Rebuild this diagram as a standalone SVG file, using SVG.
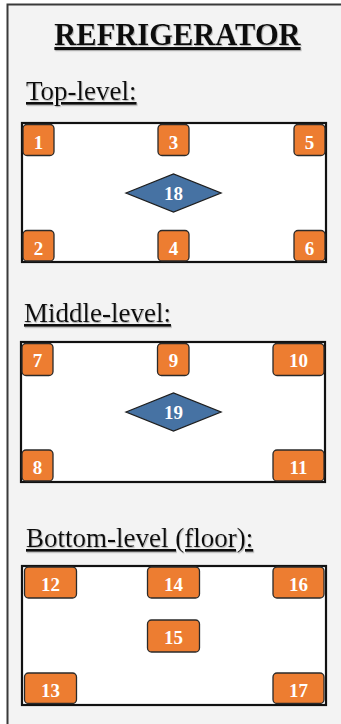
<svg xmlns="http://www.w3.org/2000/svg" width="341" height="724" viewBox="0 0 341 724">
<defs>
<style>
.head{font-family:"Liberation Serif","Times New Roman",serif;fill:#111;text-decoration:underline;filter:url(#sh)}
.box{fill:#ffffff;stroke:#111;stroke-width:2.2}
.n rect{fill:#ed7d31;stroke:#2a2a2a;stroke-width:1.3}
.n polygon{fill:#4672a3;stroke:#1e1e1e;stroke-width:1.3}
.n text{font-family:"Liberation Serif","Times New Roman",serif;font-weight:bold;font-size:19px;fill:#ffffff;text-anchor:middle}
</style>
<filter id="sh" x="-5%" y="-20%" width="110%" height="140%">
<feDropShadow dx="0.8" dy="1.2" stdDeviation="0.5" flood-color="#888" flood-opacity="0.6"/>
</filter>
</defs>
<rect x="0" y="0" width="341" height="724" fill="#ffffff"/>
<rect x="7.5" y="4.5" width="345" height="730" fill="#f3f3f3" stroke="#3a3a3a" stroke-width="2"/>

<text class="head" x="177.5" y="45" font-size="30.5" font-weight="bold" text-anchor="middle">REFRIGERATOR</text>
<text class="head" x="26" y="100" font-size="27">Top-level:</text>
<text class="head" x="24" y="322" font-size="27">Middle-level:</text>
<text class="head" x="26" y="547" font-size="27">Bottom-level (floor):</text>

<g id="top-level"><rect class="box" x="22" y="123" width="304" height="139"/></g>
<g id="middle-level"><rect class="box" x="21" y="342" width="304" height="140"/></g>
<g id="bottom-level"><rect class="box" x="22" y="566" width="304" height="139"/></g>

<g id="connectors"></g>

<g id="n1" class="n"><rect x="23" y="124.5" width="31" height="31" rx="4"/><text x="38.5" y="149">1</text></g>
<g id="n3" class="n"><rect x="158" y="124.5" width="31" height="31" rx="4"/><text x="173.5" y="149">3</text></g>
<g id="n5" class="n"><rect x="294" y="124.5" width="31" height="31" rx="4"/><text x="309.5" y="149">5</text></g>
<g id="n2" class="n"><rect x="23" y="230.5" width="31" height="30.5" rx="4"/><text x="38.5" y="255">2</text></g>
<g id="n4" class="n"><rect x="158" y="230.5" width="31" height="30.5" rx="4"/><text x="173.5" y="255">4</text></g>
<g id="n6" class="n"><rect x="294" y="230.5" width="31" height="30.5" rx="4"/><text x="309.5" y="255">6</text></g>
<g id="n18" class="n"><polygon points="126,193 173.5,174 221,193 173.5,212"/><text x="173.5" y="199.5">18</text></g>

<g id="n7" class="n"><rect x="22" y="343.5" width="31" height="32" rx="4"/><text x="37.5" y="367">7</text></g>
<g id="n9" class="n"><rect x="157.5" y="343.5" width="31.5" height="32" rx="4"/><text x="173.5" y="367">9</text></g>
<g id="n10" class="n"><rect x="273" y="343.5" width="51" height="32" rx="4"/><text x="298.5" y="367">10</text></g>
<g id="n8" class="n"><rect x="22" y="450" width="31" height="31" rx="4"/><text x="37.5" y="474">8</text></g>
<g id="n11" class="n"><rect x="273" y="450" width="51" height="31" rx="4"/><text x="298.5" y="474">11</text></g>
<g id="n19" class="n"><polygon points="126,412 173.5,393 221,412 173.5,431"/><text x="173.5" y="418.5">19</text></g>

<g id="n12" class="n"><rect x="24.5" y="567" width="52" height="31" rx="4"/><text x="50.5" y="591">12</text></g>
<g id="n14" class="n"><rect x="147.5" y="567" width="52" height="31" rx="4"/><text x="173.5" y="591">14</text></g>
<g id="n16" class="n"><rect x="273" y="567" width="51" height="31" rx="4"/><text x="298.5" y="591">16</text></g>
<g id="n15" class="n"><rect x="147.5" y="620" width="52" height="32" rx="4"/><text x="173.5" y="644">15</text></g>
<g id="n13" class="n"><rect x="24.5" y="673" width="52" height="30.5" rx="4"/><text x="50.5" y="697">13</text></g>
<g id="n17" class="n"><rect x="273" y="673" width="51" height="30.5" rx="4"/><text x="298.5" y="697">17</text></g>
</svg>
